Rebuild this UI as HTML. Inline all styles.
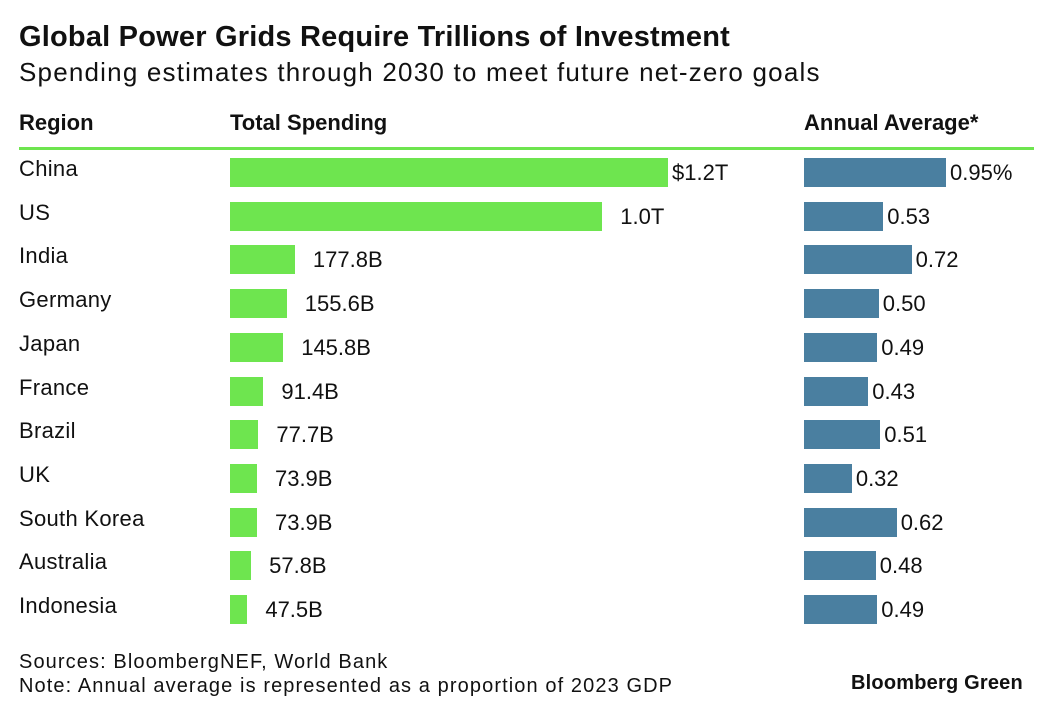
<!DOCTYPE html>
<html><head><meta charset="utf-8"><style>
body{margin:0;background:#fff;font-family:"Liberation Sans",sans-serif;color:#111}
#c{position:relative;width:1041px;height:713px;overflow:hidden}
.t{position:absolute;white-space:nowrap}
</style></head><body>
<div id="c">
<div class="t" style="left:19px;top:21px;font-size:29px;font-weight:bold;letter-spacing:0.2px">Global Power Grids Require Trillions of Investment</div>
<div class="t" style="left:19px;top:57px;font-size:26px;letter-spacing:1.2px">Spending estimates through 2030 to meet future net-zero goals</div>
<div class="t" style="left:19px;top:110px;font-size:22px;font-weight:bold">Region</div>
<div class="t" style="left:230px;top:110px;font-size:22px;font-weight:bold">Total Spending</div>
<div class="t" style="left:804px;top:110px;font-size:22px;font-weight:bold">Annual Average*</div>
<div style="position:absolute;left:19px;top:147px;width:1015px;height:3px;background:#6ee54f"></div>
<div id="rows"></div>
<div class="t" style="left:19px;top:651px;font-size:20px;letter-spacing:1.1px">Sources: BloombergNEF, World Bank</div>
<div class="t" style="left:19px;top:675px;font-size:20px;letter-spacing:1.1px">Note: Annual average is represented as a proportion of 2023 GDP</div>
<div class="t" style="left:851px;top:672px;font-size:20px;font-weight:bold;letter-spacing:0.2px">Bloomberg Green</div>
</div>
<script>
const regions=["China","US","India","Germany","Japan","France","Brazil","UK","South Korea","Australia","Indonesia"];
const spending=[1200,1020,177.8,155.6,145.8,91.4,77.7,73.9,73.9,57.8,47.5];
const spendingLabels=["$1.2T","1.0T","177.8B","155.6B","145.8B","91.4B","77.7B","73.9B","73.9B","57.8B","47.5B"];
const annual=[0.95,0.53,0.72,0.50,0.49,0.43,0.51,0.32,0.62,0.48,0.49];
const annualLabels=["0.95%","0.53","0.72","0.50","0.49","0.43","0.51","0.32","0.62","0.48","0.49"];
const xS=v=>230+v*0.365, xA=v=>804+v*149.5, yR=i=>158+i*43.7;
const root=document.getElementById('rows');
function mk(name,css,txt){const d=document.createElement('div');d.style.cssText='position:absolute;'+css;if(txt!=null){d.textContent=txt;d.style.whiteSpace='nowrap';}


root.appendChild(d);return d;}
regions.forEach((r,i)=>{const y=yR(i);
mk('region-label',`left:19px;top:${y-1}px;font-size:22px;line-height:24px;letter-spacing:0.3px`,r);
const w=xS(spending[i])-230;
mk('spending-bar',`left:230px;top:${y}px;width:${w}px;height:29px;background:#6ee54f`);
mk('spending-value',`left:${230+w+(i==0?4:18)}px;top:${y+2}px;font-size:22px;line-height:26px`,spendingLabels[i]);
const wa=xA(annual[i])-804;
mk('annual-bar',`left:804px;top:${y}px;width:${wa}px;height:29px;background:#4a7fa0`);
mk('annual-value',`left:${804+wa+4}px;top:${y+2}px;font-size:22px;line-height:26px`,annualLabels[i]);
});
</script>
</body></html>
